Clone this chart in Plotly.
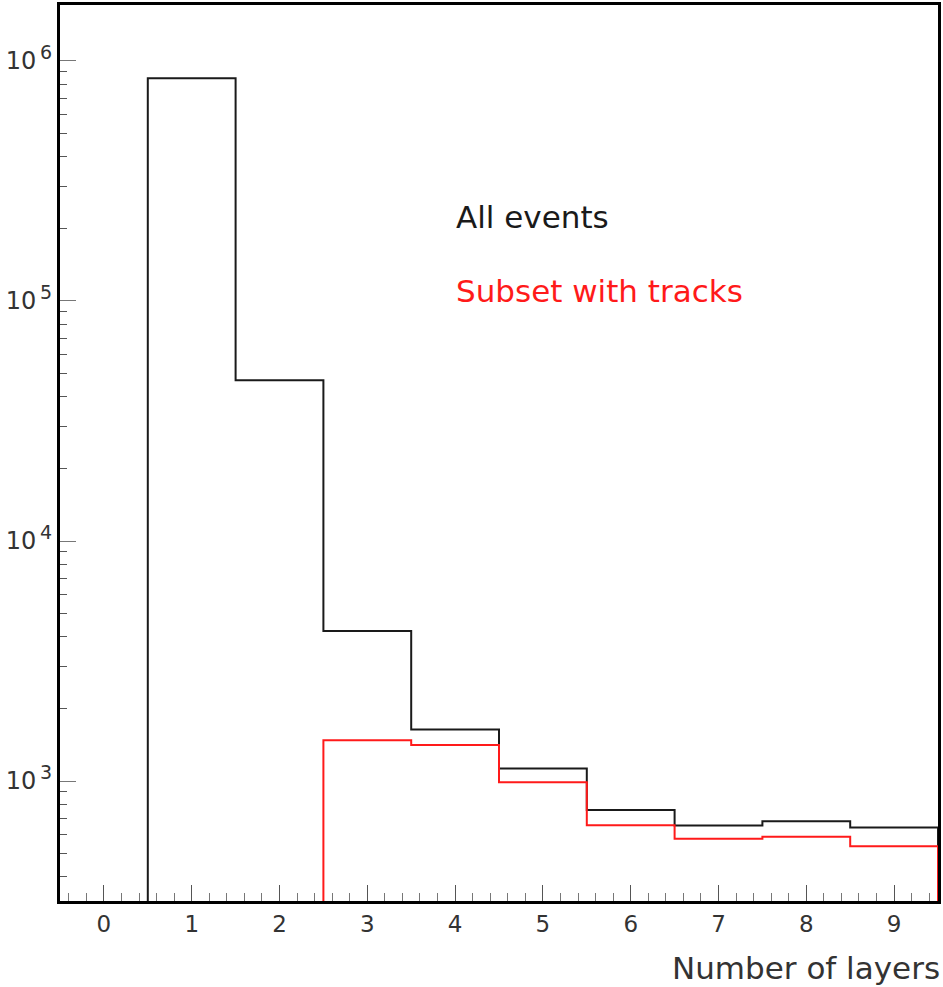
import plotly.graph_objects as go

# Bin centres (number of layers) and counts per bin
layers = [0, 1, 2, 3, 4, 5, 6, 7, 8, 9]
all_events = [0, 848000, 46700, 4220, 1640, 1127, 757, 653, 679, 640]
with_tracks = [0, 0, 0, 1478, 1413, 988, 654, 575, 586, 535]

x_ticks = [0, 1, 2, 3, 4, 5, 6, 7, 8, 9]
y_ticks = [1e3, 1e4, 1e5, 1e6]
y_exponents = ["3", "4", "5", "6"]
y_ticktext = ["10<sup><span style='font-size:19px'>&#8201;%s</span></sup>" % e for e in y_exponents]

FLOOR = 1.0  # empty bins drop below the visible log range


def step_path(centres, counts):
    """Histogram outline as an 'hv' step path over bin edges."""
    vals = [c if c > 0 else FLOOR for c in counts]
    xs = [c - 0.5 for c in centres] + [centres[-1] + 0.5, centres[-1] + 0.5]
    ys = vals + [vals[-1], FLOOR]
    return xs, ys


fig = go.Figure()
for counts, color in ((all_events, "#1a1a1a"), (with_tracks, "#ff1a1a")):
    xs, ys = step_path(layers, counts)
    fig.add_trace(go.Scatter(
        x=xs, y=ys, mode="lines", line=dict(color=color, width=2, shape="hv"),
        showlegend=False, hoverinfo="skip",
    ))

font_family = "DejaVu Sans"

fig.add_annotation(x=0.449, y=0.763, xref="paper", yref="paper",
                   text="All events", showarrow=False, xanchor="left", yanchor="middle",
                   font=dict(family=font_family, size=31, color="#1a1a1a"))
fig.add_annotation(x=0.449, y=0.681, xref="paper", yref="paper",
                   text="Subset with tracks", showarrow=False, xanchor="left", yanchor="middle",
                   font=dict(family=font_family, size=31, color="#ff1a1a"))
fig.add_annotation(x=1.004, y=-0.075, xref="paper", yref="paper",
                   text="Number of layers", showarrow=False, xanchor="right", yanchor="middle",
                   font=dict(family=font_family, size=31, color="#333333"))

fig.update_xaxes(
    range=[-0.5, 9.5], tickvals=x_ticks, ticks="inside", ticklen=16, tickwidth=1,
    tickcolor="#555555", showline=True, linecolor="black", linewidth=3, mirror=True,
    showgrid=False, zeroline=False,
    tickfont=dict(family=font_family, size=23, color="#333333"),
    minor=dict(dtick=0.2, ticks="inside", ticklen=8, tickwidth=1, tickcolor="#777777", showgrid=False),
)
fig.update_yaxes(
    type="log", range=[2.5, 6.2333], tickvals=y_ticks, ticktext=y_ticktext,
    ticks="inside", ticklen=16, tickwidth=1, tickcolor="#777777",
    showline=True, linecolor="black", linewidth=3, mirror=True,
    showgrid=False, zeroline=False,
    tickfont=dict(family=font_family, size=24, color="#333333"),
    minor=dict(dtick="D1", ticks="inside", ticklen=7, tickwidth=1, tickcolor="#555555", showgrid=False),
)

fig.update_layout(
    width=943, height=987,
    margin=dict(l=60, r=2, t=5, b=86),
    paper_bgcolor="white", plot_bgcolor="white",
)

fig.write_html("out.html")
